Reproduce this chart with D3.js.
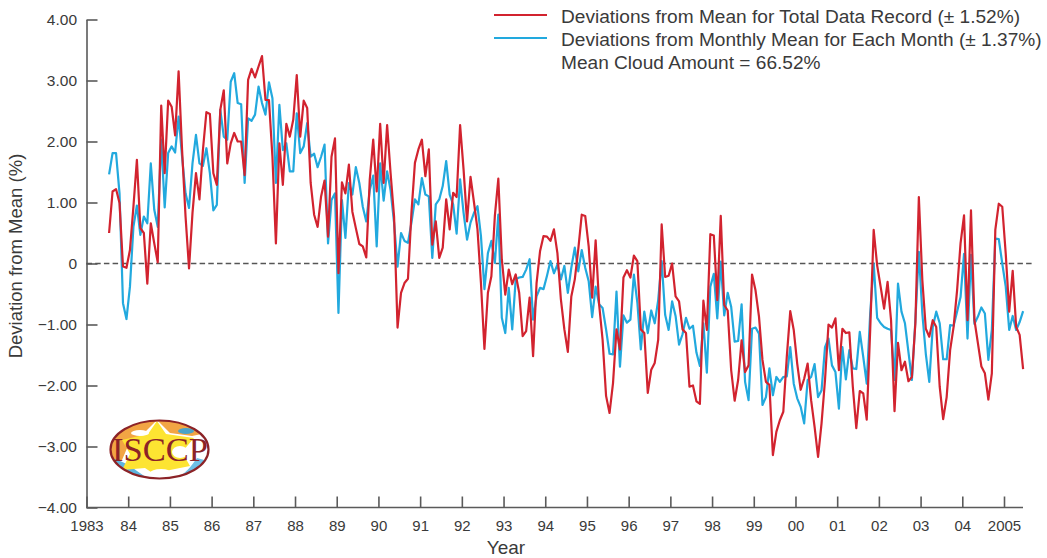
<!DOCTYPE html>
<html><head><meta charset="utf-8">
<script src="https://cdn.jsdelivr.net/npm/d3@7"></script>
<style>html,body{margin:0;padding:0;background:#fff}svg{display:block}text{font-family:"Liberation Sans",Arial,sans-serif;fill:#3a3a3a}</style>
</head><body><svg id="c" width="1047" height="558"></svg>
<script>
const yearTicks=[1983,1984,1985,1986,1987,1988,1989,1990,1991,1992,1993,1994,1995,1996,1997,1998,1999,2000,2001,2002,2003,2004,2005];
const yearLabels=["1983","84","85","86","87","88","89","90","91","92","93","94","95","96","97","98","99","00","01","02","03","04","2005"];
const valueTicks=[-4,-3,-2,-1,0,1,2,3,4];
const startYear=1983+6.5/12;
const totalRecord=[.50,1.18,1.22,.99,-.05,-.07,.22,.93,1.70,.58,.50,-.33,.66,.33,.02,
2.59,1.48,2.67,2.57,2.10,3.15,1.86,.77,-.08,.83,1.48,1.05,1.86,2.48,2.45,
1.48,1.29,2.52,2.84,1.64,1.97,2.14,2.0,2.0,1.45,
3.01,3.19,3.05,3.23,3.40,2.68,2.68,1.75,.33,1.97,
1.29,2.29,2.08,2.36,3.09,2.08,2.67,2.55,1.32,.8,
.6,1.1,1.36,.44,1.75,2.05,-.16,1.33,1.15,1.62,
.85,.58,.32,.28,.1,1.37,2.03,1.18,2.29,1.32,
2.27,1.48,.77,-1.05,
-.48,-.32,-.25,.83,1.65,1.87,2.03,1.43,1.87,.31,.69,.09,.26,1.05,.56,1.16,
1.09,2.27,1.54,.69,1.42,1.0,.56,-.32,-1.4,-.48,-.21,.78,1.39,.07,-.51,-.1,
-.34,-.18,-.48,-1.19,-1.11,-.56,-1.52,-.32,.2,.45,.44,.37,.56,.17,-.59,-1.08,
-1.45,-.54,-.26,.23,.8,.78,.28,-.56,.38,-.67,-1.25,-2.17,-2.45,-1.96,-1.08,-1.41,
-.23,-.11,-.23,.13,.04,-1.08,-1.14,-2.12,-1.74,-1.63,-1.25,.64,-.22,-.2,0,-.54,
-.62,-1.08,-1.14,-2.02,-2.0,-2.26,-2.3,
-.61,-1.09,.48,.46,-.6,.78,-.68,-.77,-1.75,-2.25,-1.91,-1.26,-1.78,-1.67,-.18,-.44,
-.87,-1.58,-1.94,-1.99,-3.14,-2.76,-2.57,-2.43,-1.53,-.78,-1.09,-1.64,-2.07,-1.89,-1.64,-2.24,
-2.68,-3.17,-2.62,-1.91,-1.0,-1.05,-.9,-1.75,-1.07,-1.14,-1.13,-2.02,-2.7,-2.09,-2.13,-2.56,
-1.09,.55,-.03,-.38,-.74,-.3,-.93,-2.42,-1.3,-1.75,-1.61,-1.93,-1.86,-.98,1.09,-.27,
-1.07,-1.2,-.93,-1.04,-2.02,-2.55,-2.19,-1.42,-1.04,-.44,.33,.79,-.93,.87,-.93,-1.31,
-1.69,-1.8,-2.23,-1.8,.55,.98,.93,.16,-.79,-.12,-1.04,-1.17,-1.73];
const monthlyMean=[1.46,1.81,1.81,1.15,-.65,-.91,-.38,.6,.95,.47,.77,.66,1.64,.88,.6,
2.03,.92,1.81,1.92,1.82,2.41,1.75,1.15,.91,1.64,2.11,1.64,1.6,1.89,1.48,
.87,.96,2.52,2.08,2.03,2.98,3.12,2.63,2.61,1.32,
2.38,2.34,2.44,2.9,2.63,2.44,2.97,2.71,1.32,2.6,
1.86,1.97,1.51,1.51,2.46,1.81,1.92,2.3,1.75,1.8,
1.58,1.75,1.95,.33,1.04,1.15,-.81,1.04,.42,1.32,
1.13,1.58,1.32,.93,.69,1.2,1.44,.28,1.64,1.03,
1.51,1.2,.67,-.05,
.5,.37,.34,.67,1.05,.97,1.4,1.13,1.1,.09,.97,1.05,1.27,1.68,1.13,.97,
.49,1.38,.83,.39,.67,.83,.94,.45,-.42,.17,.37,.01,.8,-.89,-1.14,-.4,
-1.08,-.26,-.23,-.22,-.1,.07,-.92,-.54,-.4,-.42,-.2,.04,-.16,-.02,-.26,-.04,
-.48,-.07,.26,-.13,.22,-.07,-.29,-.88,-.38,-.67,-.73,-1.08,-1.48,-1.49,-.46,-1.69,
-.85,-.97,-.92,-.18,-.64,-1.41,-.79,-1.14,-.77,-.98,-.6,.04,-.84,-1.09,-.62,-.86,
-1.33,-1.16,-.89,-1.07,-1.02,-1.46,-1.68,
-.98,-1.79,-.38,-.17,-.9,.03,-.85,-.48,-.71,-1.28,-1.27,-.67,-1.94,-2.24,-1.07,-1.05,
-1.15,-2.32,-2.19,-1.72,-2.16,-1.86,-1.94,-1.86,-1.85,-1.37,-1.97,-2.21,-2.35,-2.62,-1.91,-1.86,
-1.65,-2.19,-2.08,-1.37,-1.23,-1.67,-1.78,-2.38,-1.37,-1.9,-1.42,-1.72,-1.73,-1.12,-1.53,-1.97,
-.82,0,-.89,-.98,-1.04,-1.07,-1.09,-1.91,-.33,-.79,-.98,-1.45,-1.91,-.93,.19,-.82,
-1.48,-1.94,-1.04,-.79,-.98,-1.57,-1.57,-1.01,-1.02,-.79,-.55,.16,-1.23,.14,-.99,-.87,
-.72,-.82,-1.58,-1.09,.41,.4,0,-.38,-1.09,-.86,-1.09,-.96,-.78];
const legendLabels=["Deviations from Mean for Total Data Record (\u00b1 1.52%)","Deviations from Monthly Mean for Each Month (\u00b1 1.37%)","Mean Cloud Amount = 66.52%"];

const RED="#d2232f",BLUE="#22a9de",AXIS="#5a5a5a";
const svg=d3.select("#c");
const x=d3.scaleLinear().domain([1983,2005]).range([86.5,1004]);
const y=d3.scaleLinear().domain([-4,4]).range([507.5,19.5]);
const xRight=1023;

const defs=svg.append("defs");
defs.append("clipPath").attr("id","logoClip").append("ellipse").attr("cx",159.5).attr("cy",449.5).attr("rx",49).attr("ry",29);

const gx=svg.append("g").attr("transform","translate(0,507.5)")
 .call(d3.axisBottom(x).tickValues(yearTicks).tickFormat((d,i)=>yearLabels[i]).tickSizeInner(-11).tickSizeOuter(0));
gx.select(".domain").attr("d",`M${x(1983)},0H${xRight}`);
gx.selectAll("line,.domain").attr("stroke",AXIS).attr("stroke-width",1.6);
gx.selectAll("text").attr("font-size",15).attr("dy","0").attr("y",23);
const gy=svg.append("g").attr("transform","translate(86.5,0)")
 .call(d3.axisLeft(y).tickValues(valueTicks).tickFormat(d=>d===0?"0":(d<0?"\u2212":"")+Math.abs(d).toFixed(2)).tickSizeInner(-11).tickSizeOuter(0).tickPadding(9.5));
gy.selectAll("line,.domain").attr("stroke",AXIS).attr("stroke-width",1.6);
gy.selectAll("text").attr("font-size",15.5);

svg.append("line").attr("x1",x(1983)).attr("x2",1034).attr("y1",y(0)).attr("y2",y(0))
 .attr("stroke","#555").attr("stroke-width",1.6).attr("stroke-dasharray","5.5 3.2");

const line=d3.line().x((d,i)=>x(startYear+i/12)).y(d=>y(d));
svg.append("path").datum(monthlyMean).attr("d",line).attr("fill","none").attr("stroke",BLUE).attr("stroke-width",2.2).attr("stroke-linejoin","round");
svg.append("path").datum(totalRecord).attr("d",line).attr("fill","none").attr("stroke",RED).attr("stroke-width",2.2).attr("stroke-linejoin","round");

const lg=svg.append("g");
[[RED,15],[BLUE,38]].forEach(([c,py])=>lg.append("line").attr("x1",494).attr("x2",547).attr("y1",py).attr("y2",py).attr("stroke",c).attr("stroke-width",2.2));
lg.selectAll("text").data(legendLabels).join("text").attr("x",561).attr("y",(d,i)=>[23,46,69][i]).attr("font-size",19.1).text(d=>d);

svg.append("text").attr("transform","translate(22,256) rotate(-90)").attr("text-anchor","middle").attr("font-size",18.5).text("Deviation from Mean (%)");
svg.append("text").attr("x",506).attr("y",554).attr("text-anchor","middle").attr("font-size",19).text("Year");

const logo=svg.append("g");
const art=logo.append("g").attr("clip-path","url(#logoClip)");
art.append("rect").attr("x",108).attr("y",418).attr("width",104).attr("height",62).attr("fill","#fff");
art.append("path").attr("d","M108,418H212V432L192,436L170,433L157,420L143,434L128,446L122,460L108,462Z").attr("fill","#f2a544");
art.append("path").attr("d","M108,458C125,460 132,468 150,480L108,482Z").attr("fill","#5db4de");
art.append("path").attr("d","M168,482C182,478 190,468 197,458L212,462V482Z").attr("fill","#6fbfe6");
art.append("path").attr("d","M157,421L166,434L194,438L182,452L190,466L170,470L157,476L145,468L122,470L130,454L122,440L148,434Z").attr("fill","#fde432");
art.append("ellipse").attr("cx",180).attr("cy",452).attr("rx",8).attr("ry",6).attr("fill","#fff");
art.append("ellipse").attr("cx",161).attr("cy",473).attr("rx",11).attr("ry",4).attr("fill","#fff");
art.append("ellipse").attr("cx",140).attr("cy",433).attr("rx",9).attr("ry",3).attr("fill","#fff");
art.append("ellipse").attr("cx",186).attr("cy",431).attr("rx",8).attr("ry",3).attr("fill","#4aa3c8");
logo.append("ellipse").attr("cx",159.5).attr("cy",449.5).attr("rx",49).attr("ry",29).attr("fill","none").attr("stroke","#8c2327").attr("stroke-width",2.2);
logo.append("text").attr("x",160).attr("y",461).attr("text-anchor","middle").style("font-family","'Liberation Serif',serif").style("fill","#8c2327").attr("font-size",34.5).text("ISCCP");
</script></body></html>
